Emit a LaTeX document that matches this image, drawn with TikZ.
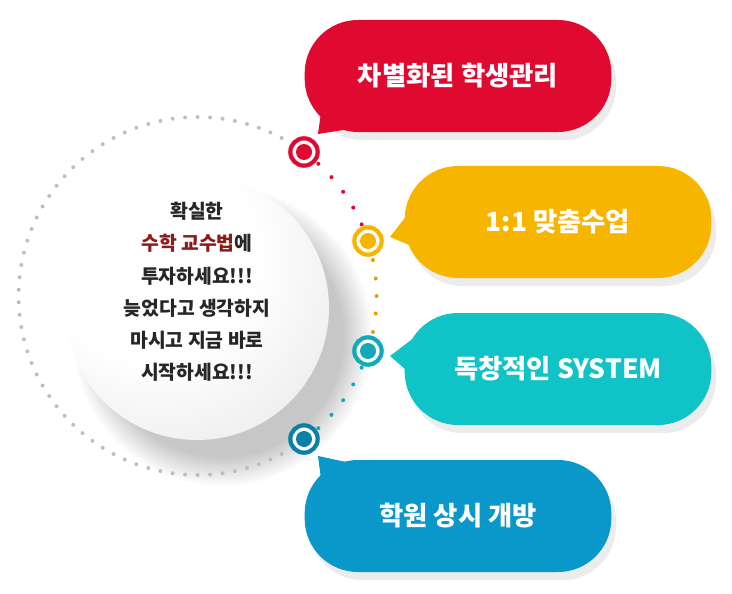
\documentclass[tikz,border=0pt]{standalone}
\usepackage{fontspec}
\setmainfont{Noto Sans CJK KR}
\usetikzlibrary{shadows,fadings,calc}
\definecolor{cred}{HTML}{E00A31}
\definecolor{cyellow}{HTML}{F7B500}
\definecolor{cteal}{HTML}{10C3C6}
\definecolor{cblue}{HTML}{0A97C9}
\definecolor{mteal}{HTML}{12A9B8}
\definecolor{mblue}{HTML}{0A7FA8}
\definecolor{accent}{HTML}{8E1B1B}
\pgfdeclareradialshading{sphere}{\pgfpoint{-12bp}{14bp}}{color(0bp)=(white); color(20bp)=(white); color(44bp)=(black!10); color(60bp)=(black!28); color(72bp)=(black!38)}
\begin{document}
\begin{tikzpicture}[x=0.03cm,y=-0.03cm]
	\tikzstyle{bubble} = [rounded corners=1.6cm,minimum width=9.2cm,minimum height=3.36cm,
		text=white,font=\fontsize{22.5}{26}\selectfont\bfseries,
		drop shadow={opacity=0.15,shadow xshift=4pt,shadow yshift=-7pt}]
	\tikzstyle{marker} = [circle,line width=3.6pt,minimum size=0.82cm,inner sep=0pt,fill=white]
	\useasboundingbox (0,0) rectangle (732,594);
	% sphere and its shadow
	\fill[black,opacity=0.22,path fading=circle with fuzzy edge 20 percent] (222,336) circle (150);
	\node[circle,minimum size=7.92cm,shading=sphere] (ball) at (197,308) {};
	\node[align=center,font=\fontsize{16.5}{27.5}\selectfont\bfseries,text=black!85] (txt) at (197,292)
		{확실한\\\textcolor{accent}{수학 교수법}에\\투자하세요!!!\\늦었다고 생각하지\\마시고 지금 바로\\시작하세요!!!};
	% dotted ring
	\coordinate (o) at (197.6,296);
	\foreach \a in {58,62,...,302}
		\fill[black!25] ($(o)+(\a:179)$) circle (2);
	\foreach \a in {-47.6,-41.6,-35.6,-29.6,-23.6}
		\fill[cred] ($(o)+(\a:179)$) circle (2);
	\foreach \a in {11.6,5.6,0,-5.6,-11.6}
		\fill[cyellow!90!black] ($(o)+(\a:179)$) circle (2);
	\foreach \a in {23.6,29.6,35.6,41.6,47.6}
		\fill[mteal] ($(o)+(\a:179)$) circle (2);
	% markers
	\node[marker,draw=cred]		(m1) at (304,152) {};
	\node[marker,draw=cyellow]	(m2) at (368,241) {};
	\node[marker,draw=mteal]	(m3) at (368,351) {};
	\node[marker,draw=mblue]	(m4) at (304,439) {};
	\fill[cred] (m1) circle (8);
	\fill[cyellow] (m2) circle (8);
	\fill[mteal] (m3) circle (8);
	\fill[mblue] (m4) circle (8);
	% bubbles
	\node[bubble,fill=cred]		(b1) at (458,76)  {차별화된 학생관리};
	\node[bubble,fill=cyellow]	(b2) at (558,222) {1:1 맞춤수업};
	\node[bubble,fill=cteal]	(b3) at (558,369) {독창적인 SYSTEM};
	\node[bubble,fill=cblue]	(b4) at (458,516) {학원 상시 개방};
	% tails
	\coordinate (t1) at (318,134);
	\coordinate (t2) at (390,237);
	\coordinate (t3) at (390,356);
	\coordinate (t4) at (318,456);
	\fill[cred] (t1) -- ($(b1.south west)+(18,-30)$) -- ($(b1.south west)+(50,-4)$) -- cycle;
	\fill[cyellow] (t2) -- ($(b2.west)+(8,-14)$) -- ($(b2.west)+(12,26)$) -- cycle;
	\fill[cteal] (t3) -- ($(b3.west)+(8,-30)$) -- ($(b3.west)+(12,10)$) -- cycle;
	\fill[cblue] (t4) -- ($(b4.north west)+(18,30)$) -- ($(b4.north west)+(50,4)$) -- cycle;
\end{tikzpicture}
\end{document}
